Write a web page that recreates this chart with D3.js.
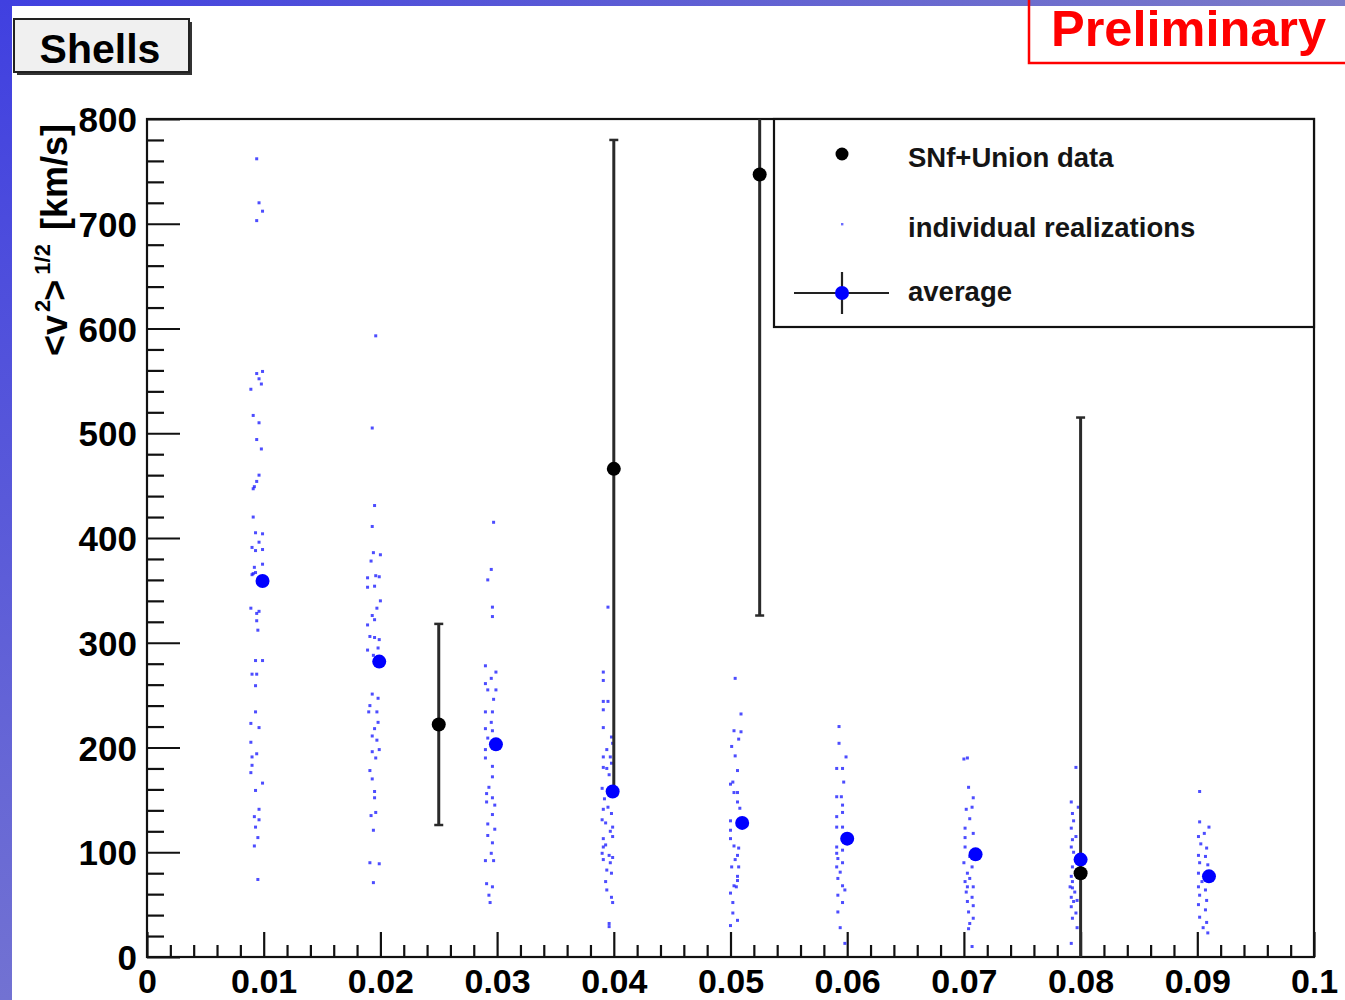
<!DOCTYPE html>
<html>
<head>
<meta charset="utf-8">
<script src="https://cdn.jsdelivr.net/npm/d3@7"></script>
<style>
html,body{margin:0;padding:0;background:#fff;}
svg{display:block;}
text{font-family:'Liberation Sans',Arial,Helvetica,sans-serif;font-weight:bold;}
</style>
</head>
<body>
<svg id="chart" width="1345" height="1000"></svg>
<script>
// ---------- data ----------
const xTicks = [0, 0.01, 0.02, 0.03, 0.04, 0.05, 0.06, 0.07, 0.08, 0.09, 0.1];
const yTicks = [0, 100, 200, 300, 400, 500, 600, 700, 800];

// SNf+Union data points with error bars
const dataX  = [0.025, 0.04, 0.0525, 0.08];
const dataY  = [222, 466, 747, 80];
const dataLo = [126, 155, 326, -60];
const dataHi = [318, 780, 900, 515];

// averages of realizations
const avgX = [0.0099, 0.0199, 0.0299, 0.0399, 0.0510, 0.0600, 0.0710, 0.0800, 0.0910];
const avgY = [359, 282, 203, 158, 128, 113, 98, 93, 77];

// individual realizations [x, y]
const real01 = [[.0094,762],[.0096,720],[.0099,712],[.0094,703],[.0099,559],[.0094,557],[.0096,552],[.0098,547],[.0089,542],[.0091,517],[.0096,510],[.0094,494],[.0098,485],[.0096,460],[.0094,454],[.0092,449],[.0091,447],[.0091,420],[.0093,405],[.0099,404],[.0096,396],[.0090,391],[.0093,388],[.0099,389],[.0099,375],[.0092,372],[.0091,366],[.0093,367],[.0090,365],[.0089,333],[.0094,328],[.0096,330],[.0094,321],[.0095,312],[.0093,283],[.0099,283],[.0090,270],[.0094,270],[.0093,259],[.0093,234],[.0089,223],[.0096,219],[.0089,205],[.0094,194],[.0090,191],[.0090,183],[.0089,176],[.0099,166],[.0093,159],[.0096,141],[.0092,134],[.0096,131],[.0093,124],[.0095,114],[.0092,106],[.0095,74]];
const real02 = [[.0196,593],[.0193,505],[.0195,431],[.0193,411],[.0194,386],[.0200,384],[.0192,378],[.0189,362],[.0196,364],[.0199,363],[.0189,353],[.0195,354],[.0200,340],[.0197,333],[.0193,326],[.0195,322],[.0189,317],[.0191,306],[.0195,305],[.0199,303],[.0189,293],[.0198,295],[.0194,288],[.0193,251],[.0198,247],[.0191,240],[.0190,234],[.0197,234],[.0198,224],[.0195,218],[.0193,211],[.0197,207],[.0199,198],[.0193,196],[.0196,190],[.0191,178],[.0193,170],[.0195,158],[.0195,152],[.0196,138],[.0192,135],[.0194,121],[.0191,90],[.0199,89],[.0194,71]];
const real03 = [[.0297,415],[.0295,370],[.0292,360],[.0296,334],[.0296,325],[.0290,278],[.0299,272],[.0295,266],[.0290,261],[.0292,255],[.0299,255],[.0297,246],[.0290,234],[.0296,234],[.0295,224],[.0290,218],[.0296,216],[.0292,209],[.0290,198],[.0290,190],[.0296,182],[.0296,172],[.0293,162],[.0291,156],[.0296,152],[.0291,148],[.0298,145],[.0296,136],[.0292,127],[.0298,122],[.0292,116],[.0296,109],[.0295,99],[.0290,92],[.0297,92],[.0291,70],[.0296,67],[.0293,59],[.0294,52]];
const real04 = [[.0395,334],[.0391,272],[.0391,264],[.0391,244],[.0395,244],[.0391,236],[.0391,219],[.0398,210],[.0399,204],[.0394,198],[.0391,191],[.0397,191],[.0398,185],[.0391,181],[.0394,180],[.0396,174],[.0390,161],[.0392,151],[.0395,143],[.0391,141],[.0398,137],[.0390,131],[.0393,128],[.0399,124],[.0397,120],[.0391,113],[.0399,115],[.0391,105],[.0393,107],[.0390,99],[.0396,97],[.0399,95],[.0391,93],[.0397,90],[.0394,83],[.0398,80],[.0393,72],[.0394,64],[.0398,57],[.0399,52],[.0396,32],[.0396,29]];
const real05 = [[.0504,266],[.0509,232],[.0503,216],[.0509,215],[.0507,208],[.0501,201],[.0504,192],[.0506,178],[.0502,167],[.0500,165],[.0503,157],[.0506,157],[.0506,148],[.0508,142],[.0500,130],[.0500,121],[.0500,113],[.0503,106],[.0507,104],[.0506,97],[.0504,93],[.0501,86],[.0507,86],[.0506,77],[.0506,73],[.0503,68],[.0505,67],[.0500,61],[.0502,52],[.0502,42],[.0506,35],[.0500,30]];
const real06 = [[.0593,220],[.0593,204],[.0599,191],[.0591,180],[.0596,180],[.0597,167],[.0595,153],[.0591,153],[.0596,145],[.0596,138],[.0591,134],[.0591,124],[.0596,124],[.0591,105],[.0596,102],[.0591,99],[.0592,94],[.0596,90],[.0591,86],[.0594,81],[.0592,75],[.0596,68],[.0598,64],[.0592,59],[.0596,52],[.0592,43],[.0594,28],[.0598,13]];
const real07 = [[.0700,189],[.0703,190],[.0704,162],[.0708,152],[.0702,141],[.0707,143],[.0705,132],[.0701,123],[.0708,118],[.0701,114],[.0701,105],[.0705,96],[.0700,90],[.0707,86],[.0703,80],[.0705,75],[.0701,72],[.0708,67],[.0703,67],[.0702,62],[.0707,57],[.0703,53],[.0708,49],[.0704,43],[.0708,37],[.0705,32],[.0704,27],[.0707,10]];
const real08 = [[.0796,181],[.0792,148],[.0798,143],[.0793,137],[.0794,130],[.0792,123],[.0796,115],[.0793,112],[.0792,105],[.0794,100],[.0797,96],[.0793,86],[.0792,77],[.0793,72],[.0791,67],[.0793,66],[.0795,62],[.0792,57],[.0797,54],[.0794,53],[.0792,48],[.0796,42],[.0793,37],[.0797,28],[.0792,13]];
const real09 = [[.0902,158],[.0902,129],[.0910,124],[.0906,118],[.0901,115],[.0903,108],[.0908,104],[.0901,97],[.0907,96],[.0902,90],[.0909,88],[.0901,80],[.0904,72],[.0901,67],[.0907,64],[.0902,59],[.0908,54],[.0901,50],[.0907,45],[.0902,38],[.0908,33],[.0905,28],[.0909,23]];

const legendLabels = ["SNf+Union data", "individual realizations", "average"];

// ---------- layout ----------
const W = 1345, H = 1000;
const L = 147, R = 1314, T = 119, B = 957;
const svg = d3.select("#chart");

// background frame gradient (ROOT canvas border)
const defs = svg.append("defs");
const gTop = defs.append("linearGradient").attr("id","gTop").attr("x1","0").attr("x2","1").attr("y1","0").attr("y2","0");
gTop.append("stop").attr("offset","0").attr("stop-color","#4040e0");
gTop.append("stop").attr("offset","1").attr("stop-color","#7c7cc8");
const gLeft = defs.append("linearGradient").attr("id","gLeft").attr("x1","0").attr("x2","0").attr("y1","0").attr("y2","1");
gLeft.append("stop").attr("offset","0").attr("stop-color","#4040e0");
gLeft.append("stop").attr("offset","1").attr("stop-color","#7272d2");
defs.append("clipPath").attr("id","plotClip").append("rect")
  .attr("x", L).attr("y", T).attr("width", R-L).attr("height", B-T);

svg.append("rect").attr("width",W).attr("height",H).attr("fill","#fff");
svg.append("rect").attr("x",0).attr("y",0).attr("width",W).attr("height",6).attr("fill","url(#gTop)");
svg.append("rect").attr("x",0).attr("y",0).attr("width",12).attr("height",H).attr("fill","url(#gLeft)");

// scales
const x = d3.scaleLinear().domain([0, 0.1]).range([L, R]);
const y = d3.scaleLinear().domain([0, 800]).range([B, T]);

// minor ticks
const xMinor = d3.range(0, 51).map(i => i * 0.002).filter(v => Math.abs(v*100 - Math.round(v*100)) > 1e-6);
const yMinor = d3.range(0, 41).map(i => i * 20).filter(v => v % 100 !== 0);

const fmtX = d => d === 0 ? "0" : d3.format(".2~f")(d);

// axes
const axX = svg.append("g").attr("transform", `translate(0,${B})`)
  .call(d3.axisBottom(x).tickValues(xTicks).tickSizeInner(-25).tickSizeOuter(0).tickPadding(12).tickFormat(fmtX));
const axXm = svg.append("g").attr("transform", `translate(0,${B})`)
  .call(d3.axisBottom(x).tickValues(xMinor).tickSizeInner(-12).tickSizeOuter(0).tickFormat(""));
const axY = svg.append("g").attr("transform", `translate(${L},0)`)
  .call(d3.axisLeft(y).tickValues(yTicks).tickSizeInner(-33).tickSizeOuter(0).tickPadding(10).tickFormat(d3.format("d")));
const axYm = svg.append("g").attr("transform", `translate(${L},0)`)
  .call(d3.axisLeft(y).tickValues(yMinor).tickSizeInner(-17).tickSizeOuter(0).tickFormat(""));
[axX, axXm, axY, axYm].forEach(a => {
  a.select(".domain").remove();
  a.selectAll(".tick line").attr("stroke","#111").attr("stroke-width",2.2);
  a.selectAll(".tick text").attr("fill","#000").style("font-size","35px").style("font-family","'Liberation Sans',Arial,sans-serif").style("font-weight","bold");
});
axX.selectAll(".tick text").style("font-size","34px").attr("dy","0.7em");
axY.selectAll(".tick text").attr("dy","0.36em");

// plot frame
svg.append("rect").attr("x", L).attr("y", T).attr("width", R-L).attr("height", B-T)
  .attr("fill","none").attr("stroke","#111").attr("stroke-width",2.2);

// plot content
const plot = svg.append("g").attr("clip-path","url(#plotClip)");

const reals = [real01, real02, real03, real04, real05, real06, real07, real08, real09].flat();
plot.append("g").selectAll("rect").data(reals).join("rect")
  .attr("x", d => x(d[0]) - 1.5).attr("y", d => y(d[1]) - 1.5)
  .attr("width", 3).attr("height", 3)
  .attr("fill", "#2020ff").attr("fill-opacity", 0.8);

// black data error bars
const dat = dataX.map((v,i) => ({x:v, y:dataY[i], lo:dataLo[i], hi:dataHi[i]}));
plot.append("g").selectAll("line").data(dat).join("line")
  .attr("x1", d => x(d.x)).attr("x2", d => x(d.x))
  .attr("y1", d => y(d.lo)).attr("y2", d => y(d.hi))
  .attr("stroke","#2a2a2a").attr("stroke-width",3);
const caps = dat.flatMap(d => [{x:d.x, v:d.lo}, {x:d.x, v:d.hi}]).filter(c => c.v > 0 && c.v < 800);
plot.append("g").selectAll("line").data(caps).join("line")
  .attr("x1", d => x(d.x) - 4.5).attr("x2", d => x(d.x) + 4.5)
  .attr("y1", d => y(d.v)).attr("y2", d => y(d.v))
  .attr("stroke","#2a2a2a").attr("stroke-width",2.5);

// averages
plot.append("g").selectAll("circle").data(avgX.map((v,i)=>[v, avgY[i]])).join("circle")
  .attr("cx", d => x(d[0])).attr("cy", d => y(d[1])).attr("r", 7).attr("fill","#0000ff");

// data points
plot.append("g").selectAll("circle").data(dat).join("circle")
  .attr("cx", d => x(d.x)).attr("cy", d => y(d.y)).attr("r", 7).attr("fill","#000");

// legend
const lg = svg.append("g");
lg.append("rect").attr("x",774).attr("y",T).attr("width",R-774).attr("height",208)
  .attr("fill","#fff").attr("stroke","#111").attr("stroke-width",2.2);
lg.append("circle").attr("cx",842).attr("cy",154).attr("r",6.5).attr("fill","#000");
lg.append("rect").attr("x",841).attr("y",223).attr("width",2.4).attr("height",2.4).attr("fill","#6a6aff");
lg.append("line").attr("x1",794).attr("x2",889).attr("y1",293).attr("y2",293).attr("stroke","#222").attr("stroke-width",2.2);
lg.append("line").attr("x1",842).attr("x2",842).attr("y1",272).attr("y2",314).attr("stroke","#222").attr("stroke-width",2.2);
lg.append("circle").attr("cx",842).attr("cy",293).attr("r",7).attr("fill","#0000ff");
const lgY = [167, 237, 301];
lg.selectAll("text.lab").data(legendLabels).join("text").attr("class","lab")
  .attr("x", 908).attr("y", (d,i) => lgY[i]).attr("fill","#151515")
  .style("font-size","27.5px").text(d => d);

// y axis title
const yt = svg.append("text").attr("transform","translate(67,240) rotate(-90)")
  .attr("text-anchor","middle").attr("fill","#000").style("font-size","36px");
yt.append("tspan").text("<v");
yt.append("tspan").attr("dy",-17).attr("dx",3).style("font-size","22px").text("2");
yt.append("tspan").attr("dy",17).attr("dx",-1).text(">");
yt.append("tspan").attr("dy",-17).attr("dx",5).style("font-size","22px").text("1/2");
yt.append("tspan").attr("dy",17).attr("dx",4).text(" [km/s]");

// title box
svg.append("rect").attr("x",17).attr("y",22).attr("width",175).attr("height",53).attr("fill","#333");
svg.append("rect").attr("x",14).attr("y",19).attr("width",175).attr("height",53)
  .attr("fill","#f0f0f0").attr("stroke","#222").attr("stroke-width",2);
svg.append("text").attr("x",100).attr("y",63).attr("text-anchor","middle").attr("fill","#000")
  .style("font-size","41px").text("Shells");

// Preliminary box
svg.append("rect").attr("x",1029).attr("y",-10).attr("width",400).attr("height",73)
  .attr("fill","none").attr("stroke","#ff0000").attr("stroke-width",2.5);
svg.append("text").attr("x",1051).attr("y",46).attr("fill","#ff0000")
  .style("font-size","50.5px").text("Preliminary");
</script>
</body>
</html>
